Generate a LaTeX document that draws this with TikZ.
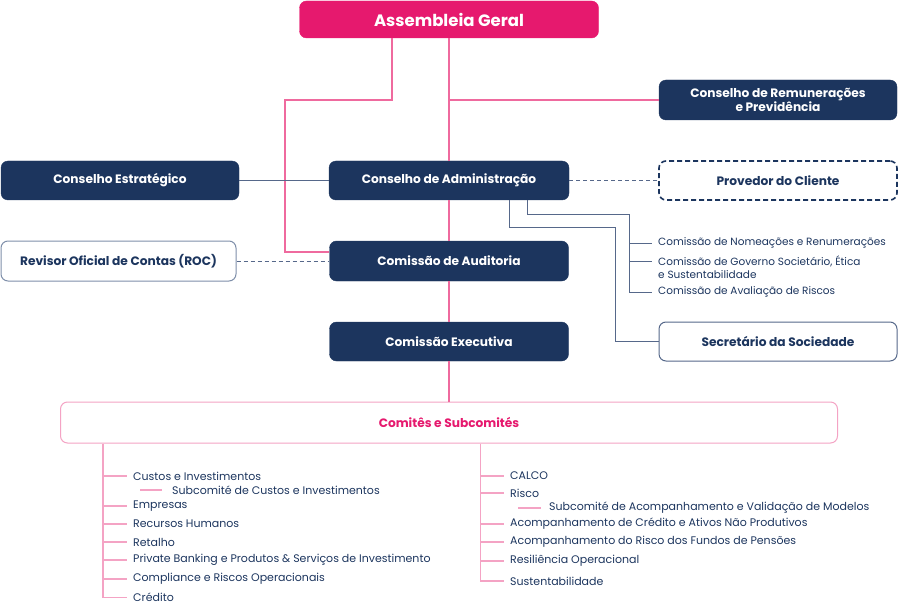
\documentclass[tikz,border=0pt]{standalone}
\usepackage{fontspec}
\setmainfont{Poppins}
\usetikzlibrary{calc}
\definecolor{navy}{HTML}{1C355E}
\definecolor{edge}{HTML}{56688A}
\definecolor{rocedge}{HTML}{7F8FAA}
\definecolor{pinkbox}{HTML}{E6196E}
\definecolor{pinkln}{HTML}{EF6A9E}
\definecolor{pinklt}{HTML}{F4A3C4}
\begin{document}
\begin{tikzpicture}[x=1pt,y=-1pt,
  navybox/.style={draw=navy,fill=navy,text=white,rounded corners=7pt,inner sep=0pt,minimum width=#1,minimum height=39pt,align=center,font=\bfseries\fontsize{12.2}{14}\selectfont},
  whitebox/.style={navybox=#1,fill=white,text=navy,draw=edge,line width=1pt},
  pinkline/.style={draw=pinkln,line width=1.1pt},
  navyline/.style={draw=edge,line width=1pt},
  dashline/.style={navyline,dash pattern=on 4pt off 3pt},
  listline/.style={draw=pinklt,line width=1.1pt},
  item/.style={anchor=west,inner xsep=6pt,inner ysep=0pt,text=navy,font=\fontsize{11}{13}\selectfont},
  subitem/.style={item,font=\fontsize{10.5}{13}\selectfont}]
\useasboundingbox (0,0) rectangle (899,604);
% boxes
\node[navybox=299,fill=pinkbox,draw=pinkbox,minimum height=37pt,font=\bfseries\fontsize{16.5}{19}\selectfont] (assembleia) at (449,19.5) {Assembleia Geral};
\node[navybox=238,minimum height=40pt] (remuneracoes) at (778,100) {Conselho de Remunerações\\e Previdência};
\node[navybox=238] (estrategico) at (120,180.5) {Conselho Estratégico};
\node[navybox=240] (administracao) at (449,180.5) {Conselho de Administração};
\node[whitebox=238,draw=navy,line width=1.6pt,dash pattern=on 5pt off 3pt] (provedor) at (778,180.5) {Provedor do Cliente};
\node[whitebox=235,draw=rocedge,minimum height=40pt] (roc) at (118.5,261) {Revisor Oficial de Contas (ROC)};
\node[navybox=239,minimum height=40pt] (auditoria) at (449,261) {Comissão de Auditoria};
\node[navybox=239] (executiva) at (449,341.5) {Comissão Executiva};
\node[whitebox=238] (secretario) at (778,341.5) {Secretário da Sociedade};
\node[whitebox=777,draw=pinklt,text=pinkbox,minimum height=41pt] (comites) at (449,422.5) {Comitês e Subcomités};
% pink lines
\draw[pinkline] (assembleia.south) -- (administracao.north)
  (administracao.south) -- (auditoria.north)
  (auditoria.south) -- (executiva.north)
  (executiva.south) -- (comites.north);
\draw[pinkline] (assembleia.south |- remuneracoes.west) -- (remuneracoes.west);
\draw[pinkline] ($(assembleia.south)+(-57,0)$) |- (285,100) |- ($(auditoria.west)+(0,-9)$);
% navy lines
\draw[navyline] (estrategico.east) -- (administracao.west);
\draw[dashline] (administracao.east) -- (provedor.west);
\draw[dashline] (roc.east) -- (auditoria.west);
% comissoes do conselho
\node[subitem] (nomeacoes) at (652,243) {Comissão de Nomeações e Renumerações};
\node[subitem] (governo) at (652,261) {Comissão de Governo Societário, Ética};
\node[subitem] (governob) at (652,275) {e Sustentabilidade};
\node[subitem] (avaliacao) at (652,292) {Comissão de Avaliação de Riscos};
\draw[navyline] ($(administracao.south)+(60,0)$) |- (615,227) |- (secretario.west);
\draw[navyline] ($(administracao.south)+(78,0)$) |- (629,214) |- (avaliacao.west);
\draw[navyline] (nomeacoes.west -| 629,0) -- (nomeacoes.west);
\draw[navyline] (governo.west -| 629,0) -- (governo.west);
% comites, esquerda
\coordinate (lroot) at ($(comites.south west)+(43,0)$);
\node[item] (custos) at (127,476) {Custos e Investimentos};
\node[item] (subcustos) at (166,490) {Subcomité de Custos e Investimentos};
\node[item] (empresas) at (127,506) {Empresas};
\node[item] (rh) at (127,524) {Recursos Humanos};
\node[item] (retalho) at (127,542) {Retalho};
\node[item] (private) at (127,560) {Private Banking e Produtos \& Serviços de Investimento};
\node[item] (compliance) at (127,579) {Compliance e Riscos Operacionais};
\node[item] (credito) at (127,597.5) {Crédito};
\draw[listline] (lroot) |- (credito.west);
\foreach \n in {custos,empresas,rh,retalho,private,compliance}
  \draw[listline] (\n.west -| lroot) -- (\n.west);
\draw[listline] ($(subcustos.west)+(-26,0)$) -- ($(subcustos.west)+(-4,0)$);
% comites, direita
\coordinate (rroot) at ($(comites.south west)+(420.5,0)$);
\node[item] (calco) at (504,476) {CALCO};
\node[item] (risco) at (504,493) {Risco};
\node[item] (modelos) at (543,508) {Subcomité de Acompanhamento e Validação de Modelos};
\node[item] (ativos) at (504,524) {Acompanhamento de Crédito e Ativos Não Produtivos};
\node[item] (pensoes) at (504,542) {Acompanhamento do Risco dos Fundos de Pensões};
\node[item] (resiliencia) at (504,561) {Resiliência Operacional};
\node[item] (sustentabilidade) at (504,581) {Sustentabilidade};
\draw[listline] (rroot) |- (sustentabilidade.west);
\foreach \n in {calco,risco,ativos,pensoes,resiliencia}
  \draw[listline] (\n.west -| rroot) -- (\n.west);
\draw[listline] ($(modelos.west)+(-25,0)$) -- ($(modelos.west)+(-2,0)$);
\end{tikzpicture}
\end{document}
